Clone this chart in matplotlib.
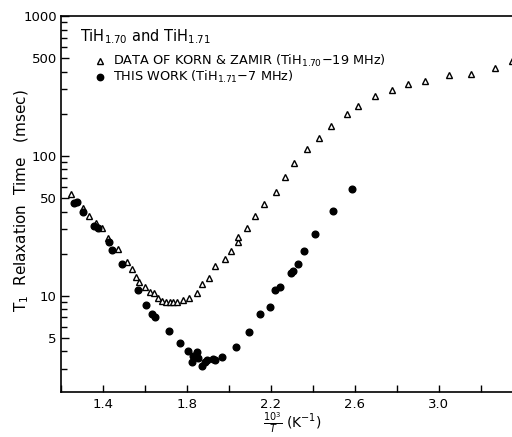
import matplotlib
matplotlib.use("Agg")
import matplotlib.pyplot as plt

# Korn & Zamir, TiH1.70 at 19 MHz (open triangles)
korn_x = [1.248, 1.305, 1.333, 1.367, 1.395, 1.424, 1.471, 1.514, 1.538, 1.557,
          1.571, 1.600, 1.624, 1.643, 1.662, 1.681, 1.700, 1.719, 1.733, 1.752,
          1.781, 1.810, 1.848, 1.871, 1.905, 1.933, 1.981, 2.010, 2.043, 2.043,
          2.086, 2.124, 2.167, 2.224, 2.267, 2.310, 2.371, 2.429, 2.486, 2.562,
          2.614, 2.695, 2.776, 2.852, 2.933, 3.048, 3.152, 3.267, 3.348]
korn_t1 = [53.5, 42.5, 37.3, 33.2, 30.6, 26.0, 21.7, 17.5, 15.6, 13.7,
           12.6, 11.6, 10.7, 10.5, 9.67, 9.21, 9.06, 9.06, 9.06, 9.06,
           9.36, 9.67, 10.5, 12.2, 13.4, 16.4, 18.4, 21.0, 24.3, 26.4,
           30.6, 37.3, 45.4, 55.3, 70.8, 89.1, 112, 134.5, 164, 200,
           227, 268, 296, 327, 343, 379, 385, 425, 477]

# this work, TiH1.71 at 7 MHz (filled circles)
work_x = [1.262, 1.276, 1.305, 1.357, 1.376, 1.429, 1.443, 1.490, 1.567, 1.605,
          1.633, 1.648, 1.714, 1.767, 1.805, 1.829, 1.848, 1.824, 1.852, 1.871,
          1.886, 1.895, 1.924, 1.933, 1.967, 2.033, 2.095, 2.148, 2.195, 2.219,
          2.243, 2.295, 2.305, 2.329, 2.357, 2.410, 2.495, 2.586]
work_t1 = [46.2, 46.9, 39.8, 31.6, 30.6, 24.3, 21.3, 16.9, 11.0, 8.62,
           7.44, 7.08, 5.62, 4.62, 4.05, 3.73, 3.98, 3.38, 3.61, 3.16,
           3.38, 3.49, 3.55, 3.49, 3.67, 4.32, 5.53, 7.44, 8.35, 10.9,
           11.6, 14.6, 15.1, 16.9, 21.0, 27.7, 40.5, 58.1]

y_major = [5, 10, 50, 100, 500, 1000]
y_major_labels = ["5", "10", "50", "100", "500", "1000"]
x_ticks = [1.2, 1.4, 1.6, 1.8, 2.0, 2.2, 2.4, 2.6, 2.8, 3.0, 3.2]
x_labels = ["", "1.4", "", "1.8", "", "2.2", "", "2.6", "", "3.0", ""]

plt.rcParams["font.family"] = ["DejaVu Sans"]

fig = plt.figure(figsize=(5.12, 4.37), dpi=100)
ax = fig.add_axes([0.1191, 0.1030, 0.8818, 0.8604])

ax.plot(korn_x, korn_t1, linestyle="none", marker="^", markersize=4.2,
        markerfacecolor="white", markeredgecolor="black", markeredgewidth=1.0,
        clip_on=False)
ax.plot(work_x, work_t1, linestyle="none", marker="o", markersize=4.8,
        color="black", clip_on=False)

ax.set_yscale("log")
ax.set_xlim(1.2, 3.35)
ax.set_ylim(2.05, 1000)

ax.set_yticks(y_major)
ax.set_yticklabels(y_major_labels)
minor = [m * d for d in (1, 10, 100) for m in (2, 3, 4, 6, 7, 8, 9)]
ax.set_yticks([v for v in minor if 2.05 <= v <= 1000], minor=True)
ax.yaxis.set_minor_formatter(plt.NullFormatter())
ax.set_xticks(x_ticks)
ax.set_xticklabels(x_labels)

ax.tick_params(axis="both", which="both", direction="in", width=1.0,
               labelsize=9.5, colors="black")
ax.tick_params(axis="y", which="major", length=6, pad=3)
ax.tick_params(axis="y", which="minor", length=4)
ax.tick_params(axis="x", which="major", length=5, pad=4)

for side in ("left", "bottom", "top"):
    ax.spines[side].set_linewidth(1.2)
ax.spines["right"].set_visible(False)

# axis titles placed by hand so they stay inside the small canvas
fig.text(0.043, 0.54, r"T$_1$  Relaxation  Time   (msec)", rotation=90,
         fontsize=11, ha="center", va="center")
fig.text(0.572, 0.004, r"$\frac{10^3}{T}$ (K$^{-1}$)", fontsize=10,
         ha="center", va="bottom")

ax.text(0.042, 0.945, r"TiH$_{1.70}$ and TiH$_{1.71}$", transform=ax.transAxes,
        fontsize=10.5, va="center")
ax.plot([0.087], [0.880], transform=ax.transAxes, marker="^", markersize=4,
        markerfacecolor="white", markeredgecolor="black", markeredgewidth=1.0)
ax.text(0.115, 0.880, r"DATA OF KORN & ZAMIR (TiH$_{1.70}$$-$19 MHz)",
        transform=ax.transAxes, fontsize=9.3, va="center")
ax.plot([0.087], [0.838], transform=ax.transAxes, marker="o", markersize=4.6,
        color="black")
ax.text(0.115, 0.838, r"THIS WORK (TiH$_{1.71}$$-$7 MHz)",
        transform=ax.transAxes, fontsize=9.3, va="center")

fig.savefig("out.png", dpi=100)
